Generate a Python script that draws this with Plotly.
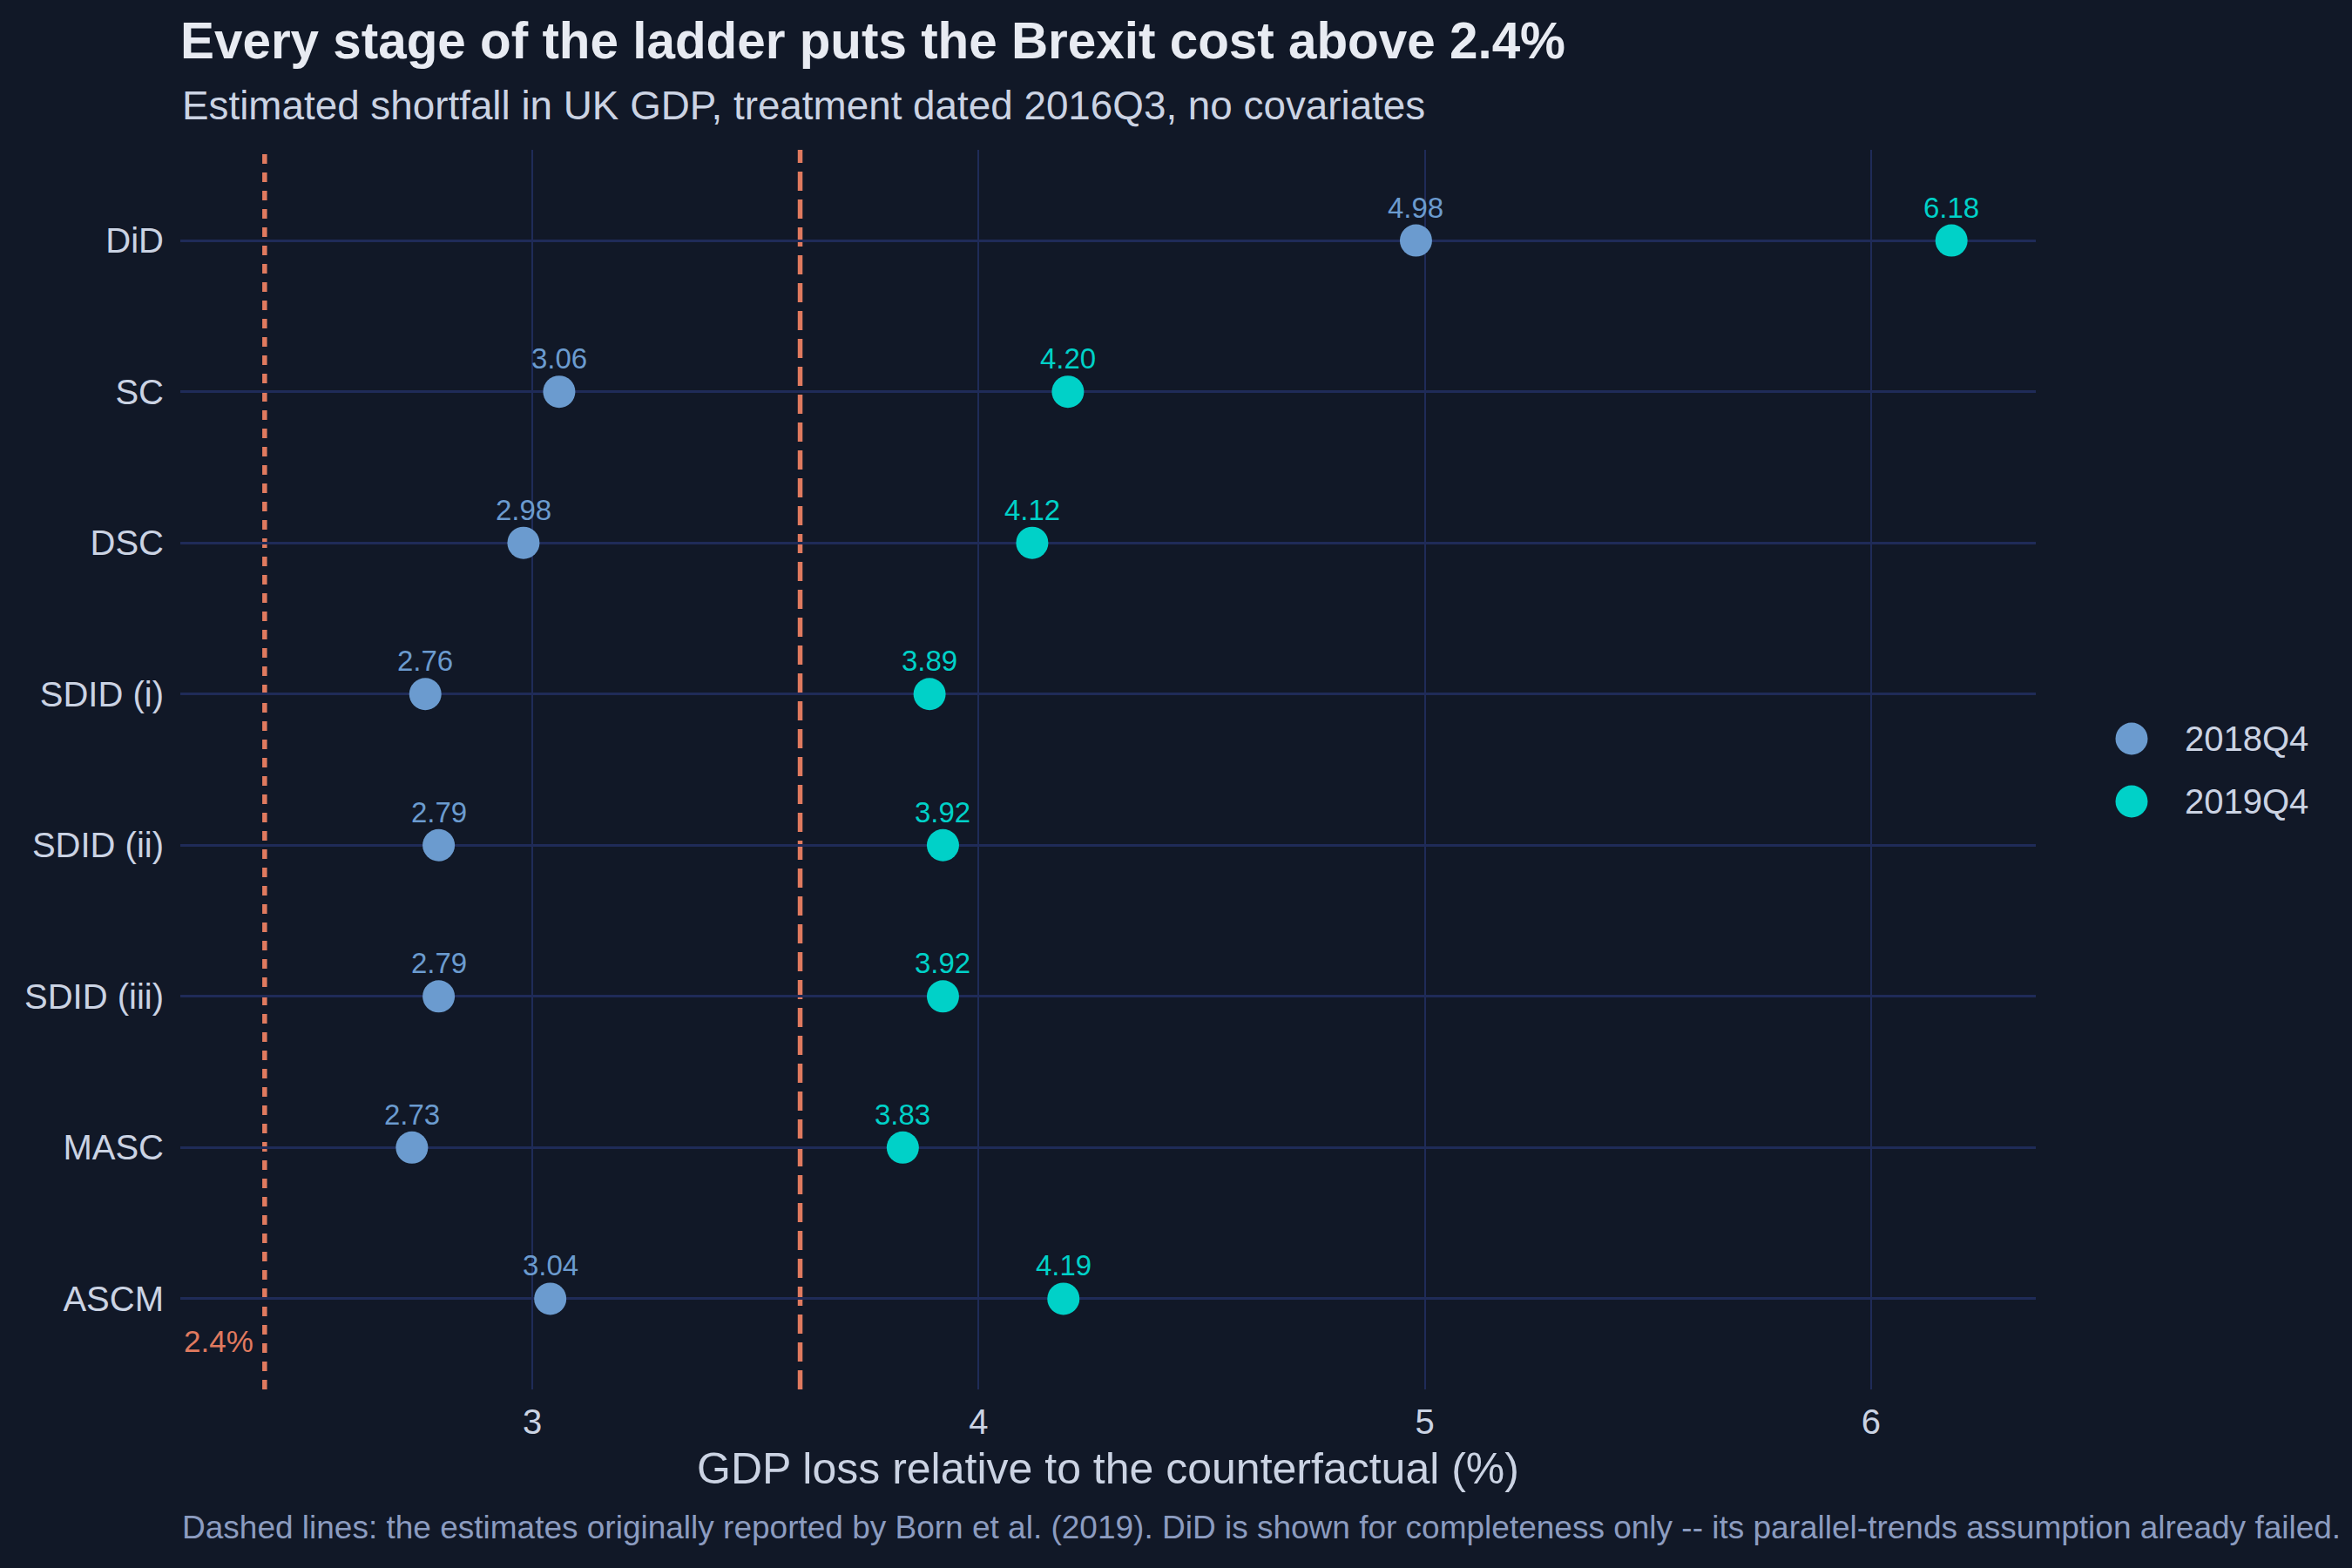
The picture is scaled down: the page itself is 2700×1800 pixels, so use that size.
import plotly.graph_objects as go

# ---- data ----
methods = ["DiD", "SC", "DSC", "SDID (i)", "SDID (ii)", "SDID (iii)", "MASC", "ASCM"]
loss_2018q4 = [4.98, 3.06, 2.98, 2.76, 2.79, 2.79, 2.73, 3.04]
loss_2019q4 = [6.18, 4.20, 4.12, 3.89, 3.92, 3.92, 3.83, 4.19]
series_names = ["2018Q4", "2019Q4"]
born_estimates = [2.4, 3.6]
born_label = "2.4%"
x_ticks = [3, 4, 5, 6]

title = "Every stage of the ladder puts the Brexit cost above 2.4%"
subtitle = "Estimated shortfall in UK GDP, treatment dated 2016Q3, no covariates"
x_title = "GDP loss relative to the counterfactual (%)"
footnote = ("Dashed lines: the estimates originally reported by Born et al. (2019). "
            "DiD is shown for completeness only -- its parallel-trends assumption already failed.")

# ---- style ----
BG = "#111827"
GRID = "#1f2b58"
TEXT = "#cbd3e3"
TITLE_C = "#e8ebf2"
FOOT_C = "#8c9cc0"
ORANGE = "#e07a5f"
COLORS = ["#6b9bcf", "#00d1c8"]
FONT = "Liberation Sans, Arial, Helvetica, sans-serif"

W, H = 2700, 1800
L, R, T, B = 207, 363, 172, 205
PW, PH = W - L - R, H - T - B


def py(pix):  # pixel y -> paper y
    return (H - B - pix) / PH


def px(pix):  # pixel x -> paper x
    return (pix - L) / PW


fig = go.Figure()
annotations = []
for name, vals, col in zip(series_names, [loss_2018q4, loss_2019q4], COLORS):
    fig.add_trace(go.Scatter(
        x=vals, y=methods, mode="markers", name=name,
        marker=dict(size=37, color=col, line=dict(width=0)),
        showlegend=False, cliponaxis=False,
    ))
    for v, m in zip(vals, methods):
        annotations.append(dict(text=f"{v:.2f}", x=v, y=m, xref="x", yref="y",
                                xanchor="center", yanchor="middle", yshift=38,
                                showarrow=False, font=dict(size=33, color=col, family=FONT)))

shapes = []
dashes = ["11px,10px", "22px,10px"]
for xv, d in zip(born_estimates, dashes):
    shapes.append(dict(type="line", xref="x", yref="paper", x0=xv, x1=xv, y0=0, y1=1,
                       line=dict(color=ORANGE, width=5.5, dash=d), layer="between"))

annotations += [
    dict(text=subtitle, xref="paper", yref="paper", x=0, y=py(122), xanchor="left",
         yanchor="middle", showarrow=False, font=dict(size=45.8, color=TEXT, family=FONT)),
    dict(text=footnote, xref="paper", yref="paper", x=0, y=py(1753), xanchor="left",
         yanchor="middle", showarrow=False, font=dict(size=37, color=FOOT_C, family=FONT)),
    dict(text=born_label, xref="x", yref="paper", x=born_estimates[0], y=py(1539),
         xanchor="right", yanchor="middle", xshift=-11, showarrow=False,
         font=dict(size=35, color=ORANGE, family=FONT)),
]

# manual legend (large symbols)
leg_y = [848, 920]
for name, col, yy in zip(series_names, COLORS, leg_y):
    shapes.append(dict(type="circle", xref="paper", yref="paper", xsizemode="pixel",
                       ysizemode="pixel", xanchor=px(2447), yanchor=py(yy),
                       x0=-18.5, x1=18.5, y0=-18.5, y1=18.5,
                       fillcolor=col, line=dict(width=0)))
    annotations.append(dict(text=name, xref="paper", yref="paper", x=px(2506), y=py(yy),
                            xanchor="left", yanchor="middle", showarrow=False,
                            font=dict(size=40, color=TEXT, family=FONT)))

fig.update_layout(
    width=W, height=H,
    paper_bgcolor=BG, plot_bgcolor=BG,
    margin=dict(l=L, r=R, t=T, b=B, autoexpand=False),
    font=dict(family=FONT, color=TEXT, size=40),
    title=dict(text=f"<b>{title}</b>", x=L / W, xanchor="left", xref="container",
               y=1 - 47 / H, yanchor="middle", yref="container",
               font=dict(size=58.4, color=TITLE_C, family=FONT)),
    shapes=shapes, annotations=annotations,
    showlegend=False,
)
fig.update_xaxes(
    range=[2.211, 6.369], tickvals=x_ticks, showgrid=True, gridcolor=GRID, gridwidth=2,
    zeroline=False, showline=False, ticks="", tickfont=dict(size=40, color=TEXT),
    ticklabelstandoff=10,
    title=dict(text=x_title, font=dict(size=50, color=TEXT), standoff=14),
)
fig.update_yaxes(
    categoryorder="array", categoryarray=methods, range=[7.6, -0.6],
    showgrid=True, gridcolor=GRID, gridwidth=3, zeroline=False, showline=False,
    ticks="", tickfont=dict(size=40, color=TEXT), ticklabelstandoff=18,
)

fig.write_html(
    "out.html",
    config={"displayModeBar": False},
    post_script="document.body.style.margin='0';document.body.style.background='" + BG + "';",
)
